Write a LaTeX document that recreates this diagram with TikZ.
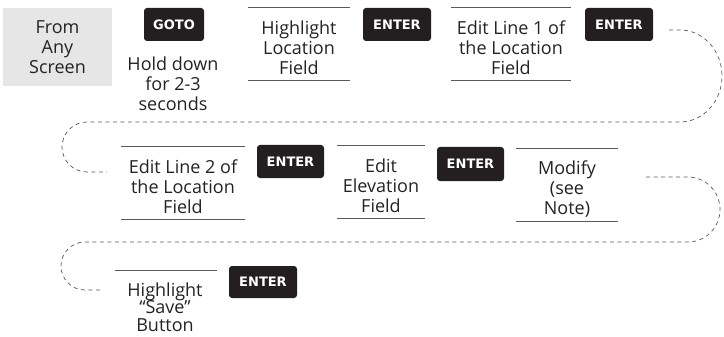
\documentclass[tikz,border=0pt]{standalone}
\usepackage{fontspec}
\setmainfont{Open Sans}
\newfontfamily\keyfont{DejaVu Sans}
\definecolor{keyblack}{RGB}{35,31,32}
\definecolor{panelgrey}{RGB}{230,230,230}
\definecolor{rulegrey}{RGB}{90,90,90}
\definecolor{inkgrey}{RGB}{35,35,35}
\newcommand\fieldlift{\rule{0pt}{22pt}}
\tikzset{
 keycap/.style={fill=keyblack,rounded corners=3pt,minimum width=68pt,minimum height=33pt,
  inner sep=0pt,text=white,font=\keyfont\bfseries\fontsize{13}{13}\selectfont},
 field/.style={minimum width=102pt,minimum height=72pt,inner sep=0pt,align=center,text=inkgrey},
 note/.style={inner sep=0pt,align=center,text=inkgrey},
 rule/.style={draw=rulegrey,line width=.9pt},
 trail/.style={draw=rulegrey,line width=.7pt,dash pattern=on 4pt off 3.5pt}
}
\begin{document}
\begin{tikzpicture}[x=1pt,y=-1pt,font=\fontsize{18}{20}\selectfont]
 \useasboundingbox (0,0) rectangle (724,337);
 % first row
 \node[fill=panelgrey,minimum width=109pt,minimum height=78pt,note] (from) at (57.5,47) {From\\Any\\Screen};
 \node[keycap,minimum width=60pt] (goto) at (174,24.5) {GOTO};
 \node[note] (hold) at (173,84) {Hold down\\for 2-3\\seconds};
 \node[field] (hlf) at (299,44) {\fieldlift Highlight\\Location\\Field};
 \draw[rule] (hlf.north west) -- (hlf.north east) (hlf.south west) -- (hlf.south east);
 \node[keycap] (enterA) at (397,24.5) {ENTER};
 \node[field,minimum width=120pt] (line1) at (511,44) {\fieldlift Edit Line 1 of\\the Location\\Field};
 \draw[rule] (line1.north west) -- (line1.north east) (line1.south west) -- (line1.south east);
 \node[keycap] (enterB) at (619,24.5) {ENTER};
 % second row
 \node[field,minimum width=124pt] (line2) at (183,183) {\fieldlift Edit Line 2 of\\the Location\\Field};
 \draw[rule] (line2.north west) -- (line2.north east) (line2.south west) -- (line2.south east);
 \node[keycap,minimum width=67pt] (enterC) at (290.5,161.5) {ENTER};
 \node[field,minimum width=87pt] (elev) at (381,182) {\fieldlift Edit\\Elevation\\Field};
 \draw[rule] (elev.north west) -- (elev.north east) (elev.south west) -- (elev.south east);
 \node[keycap,minimum width=67pt,minimum height=34pt] (enterD) at (470.5,164) {ENTER};
 \node[field] (modify) at (567,185) {\fieldlift Modify\\(see\\Note)};
 \draw[rule] (modify.north west) -- (modify.north east) (modify.south west) -- (modify.south east);
 % third row
 \node[note,font=\fontsize{18}{17.5}\selectfont] (save) at (165,307) {Highlight\\``Save''\\Button};
 \draw[rule] (115,270) coordinate (saveL) -- (217,270) coordinate (saveR);
 \node[keycap,minimum height=32pt] (enterE) at (263,282) {ENTER};
 % turns between the rows
 \coordinate (turnA) at (669,30); \coordinate (landA) at (107,172);
 \coordinate (turnB) at (646,177); \coordinate (landB) at (100,290);
 \draw[trail] (turnA) -- (680,30) arc[start angle=-90,end angle=90,x radius=42,y radius=46]
  -- (87,122) arc[start angle=270,end angle=90,radius=25] -- (landA);
 \draw[trail] (turnB) -- (688,177) arc[start angle=-90,end angle=90,x radius=32,y radius=32.5]
  -- (85,242) arc[start angle=270,end angle=90,radius=24] -- (landB);
\end{tikzpicture}
\end{document}
